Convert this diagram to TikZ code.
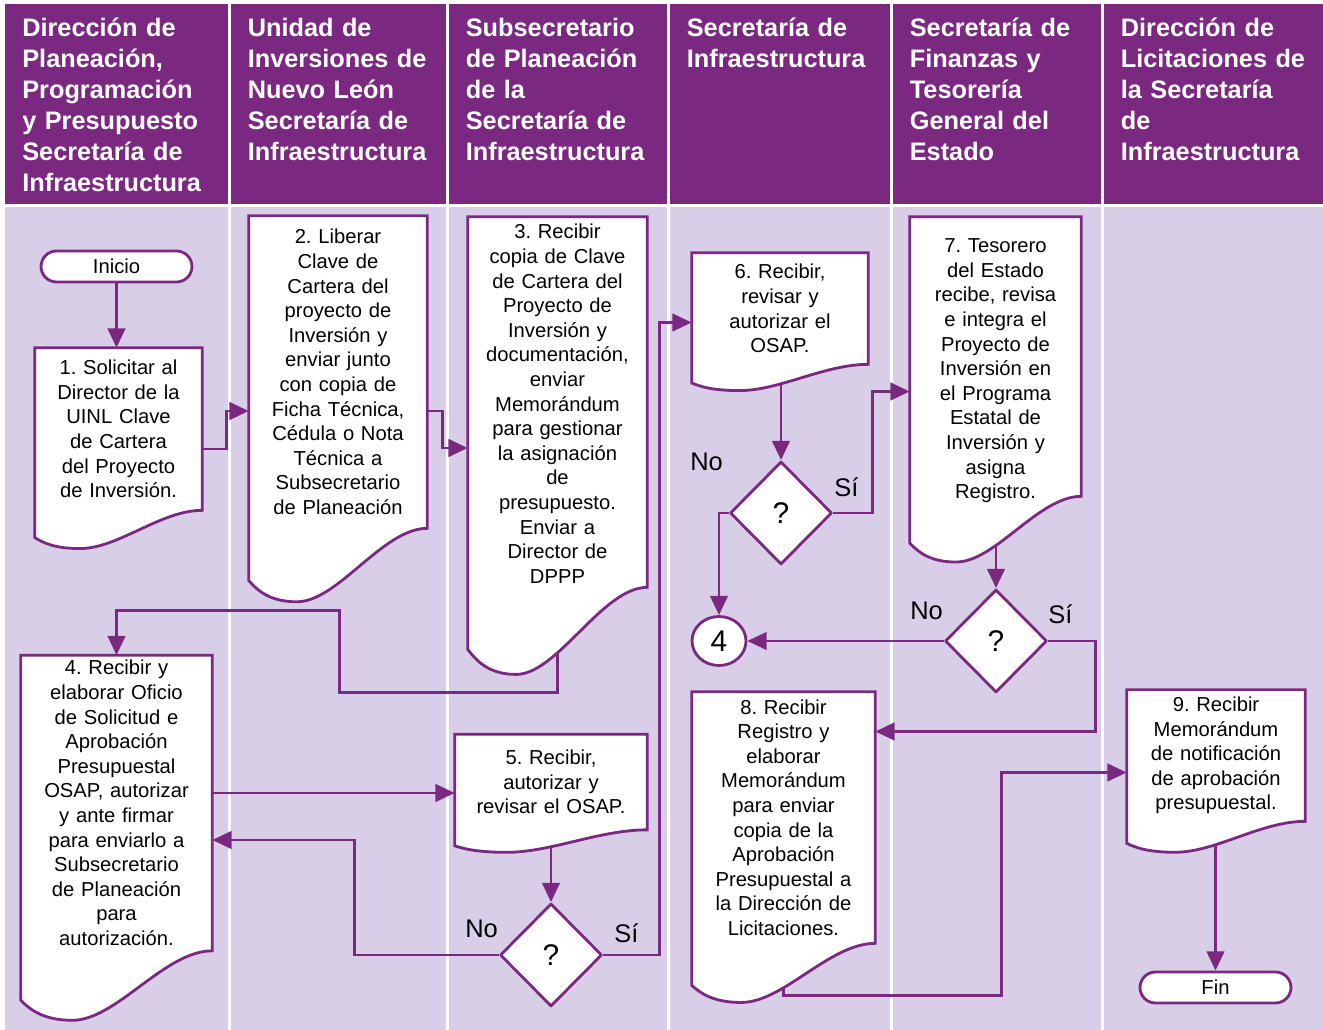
\documentclass[tikz,border=0pt]{standalone}
\usepackage{fontspec}
\setmainfont{Liberation Sans}
\frenchspacing
\usetikzlibrary{arrows.meta,calc,positioning,shapes.geometric,shapes.misc}
\definecolor{morado}{RGB}{123,41,128}
\definecolor{lila}{RGB}{217,206,232}
\pgfdeclarelayer{fondo}\pgfdeclarelayer{lineas}\pgfdeclarelayer{formas}
\pgfsetlayers{fondo,lineas,formas,main}
% contorno de documento (borde inferior ondulado) alrededor de un nodo
\newcommand\documento[1]{%
  \path[docline] let \p1=(#1.north west), \p2=(#1.south east), \n1={\x2-\x1}, \n2={0.235*(\y1-\y2)} in
    (\p1) -- (\x2,\y1) -- (\p2)
    .. controls (\x2-0.25*\n1,\y2) and (\x1+0.5*\n1,\y2-\n2) .. (\x1+0.27*\n1,\y2-\n2)
    .. controls (\x1+0.12*\n1,\y2-\n2) and (\x1+0.05*\n1,\y2-0.85*\n2) .. (\x1,\y2-0.71*\n2) -- cycle;}
\begin{document}
\begin{tikzpicture}[x=.02cm, y=-.02cm, line join=round,
	enc/.style={font=\fontsize{14.4}{17.6}\selectfont\bfseries, text=white, align=left, text width=4cm, inner sep=0pt},
	txt/.style={font=\fontsize{11.5}{14}\selectfont, align=center, inner sep=0pt},
	term/.style={txt, rounded rectangle, draw=morado, fill=white, line width=1.6pt, minimum width=3.02cm, minimum height=.62cm},
	decis/.style={diamond, draw=morado, fill=white, line width=1.6pt, inner sep=0pt, minimum width=2.04cm, minimum height=2.06cm, font=\fontsize{17}{20}\selectfont},
	etq/.style={font=\fontsize{14.5}{17}\selectfont, inner sep=0pt},
	flujo/.style={draw=morado, line width=1.6pt, -{Triangle[length=11pt,width=10pt]}},
	docline/.style={draw=morado, fill=white, line width=1.6pt}]
	\useasboundingbox (0,0) rectangle (1323,1030);
	\begin{pgfonlayer}{fondo}
		\fill[white] (0,0) rectangle (1323,1030);
		\foreach \xl/\xr/\hd [count=\i] in {5/227.5/{Dirección de\\Planeación,\\Programación\\y Presupuesto\\Secretaría de\\Infraestructura},
			230.5/445.5/{Unidad de\\Inversiones de\\Nuevo León\\Secretaría de\\Infraestructura},
			448.5/666.5/{Subsecretario\\de Planeación\\de la\\Secretaría de\\Infraestructura},
			669.5/889.5/{Secretaría de\\Infraestructura},
			892.5/1100.5/{Secretaría de\\Finanzas y\\Tesorería\\General del\\Estado},
			1103.5/1323/{Dirección de\\Licitaciones de\\la Secretaría\\de\\Infraestructura}}{
			\fill[morado] (\xl,4) rectangle (\xr,204.5);
			\fill[lila] (\xl,207.5) rectangle (\xr,1030);
			\node[enc, anchor=base west] (h\i) at (\xl+17,37) {\hd};
		}
	\end{pgfonlayer}
	\node[term] (ini) at (116.5,266.5) {Inicio};
	\node[txt, text width=3.34cm, minimum height=3.24cm] (p1) at (118.5,429) {1. Solicitar al\\Director de la\\UINL Clave\\de Cartera\\del Proyecto\\de Inversión.};
	\node[txt, text width=3.56cm, minimum height=6.24cm] (p2) at (338,372) {2. Liberar\\Clave de\\Cartera del\\proyecto de\\Inversión y\\enviar junto\\con copia de\\Ficha Técnica,\\Cédula o Nota\\Técnica a\\Subsecretario\\de Planeación};
	\node[txt, text width=3.58cm, minimum height=7.40cm, text depth=194pt] (p3) at (557.5,402) {3. Recibir\\copia de Clave\\de Cartera del\\Proyecto de\\Inversión y\\documentación,\\enviar\\Memorándum\\para gestionar\\la asignación\\de\\presupuesto.\\Enviar a\\Director de\\DPPP};
	\node[txt, text width=3.82cm, minimum height=5.90cm] (p4) at (116.5,803) {4. Recibir y\\elaborar Oficio\\de Solicitud e\\Aprobación\\Presupuestal\\OSAP, autorizar\\y ante firmar\\para enviarlo a\\Subsecretario\\de Planeación\\para\\autorización.};
	\node[txt, text width=3.84cm, minimum height=1.90cm] (p5) at (551,782) {5. Recibir,\\autorizar y\\revisar el OSAP.};
	\node[txt, text width=3.52cm, minimum height=2.22cm] (p6) at (780,308.5) {6. Recibir,\\revisar y\\autorizar el\\OSAP.};
	\node[txt, text width=3.42cm, minimum height=5.58cm, text depth=126pt] (p7) at (995.5,356.5) {7. Tesorero\\del Estado\\recibe, revisa\\e integra el\\Proyecto de\\Inversión en\\el Programa\\Estatal de\\Inversión y\\asigna\\Registro.};
	\node[txt, text width=3.66cm, minimum height=5.02cm] (p8) at (783.5,817.5) {8. Recibir\\Registro y\\elaborar\\Memorándum\\para enviar\\copia de la\\Aprobación\\Presupuestal a\\la Dirección de\\Licitaciones.};
	\node[txt, text width=3.56cm, minimum height=2.62cm] (p9) at (1216,755.5) {9. Recibir\\Memorándum\\de notificación\\de aprobación\\presupuestal.};
	\node[decis] (d5) at (551,955) {?};
	\node[decis] (d6) at (781,513) {?};
	\node[decis] (d7) at (996,641) {?};
	\node[ellipse, draw=morado, fill=white, line width=1.6pt, inner sep=0pt, minimum width=1.08cm, minimum height=.98cm, font=\fontsize{17}{20}\selectfont] (c4) at (719,641) {4};
	\node[term] (fin) at (1215.5,987.5) {Fin};
	\begin{pgfonlayer}{formas}
		\foreach \nd in {p1,p2,p3,p4,p5,p6,p7,p8,p9} \documento{\nd};
	\end{pgfonlayer}
	\node[etq] (no5) at ($(d5.west)+(-17,-26)$) {No};
	\node[etq] (si5) at ($(d5.east)+(23,-22)$) {Sí};
	\node[etq] (no6) at ($(d6.west)+(-22,-51)$) {No};
	\node[etq] (si6) at ($(d6.east)+(13,-26)$) {Sí};
	\node[etq] (no7) at ($(d7.west)+(-17,-30)$) {No};
	\node[etq] (si7) at ($(d7.east)+(12,-27)$) {Sí};
	\begin{pgfonlayer}{lineas}
		\draw[flujo] (ini.south) -- (ini.south |- p1.north);
		\draw[flujo] ($(p1.east)+(0,20)$) -- ++(24,0) |- ($(p2.west)+(0,39)$);
		\draw[flujo] ($(p2.east)+(0,39)$) -- ++(15,0) |- ($(p3.west)+(0,46)$);
		\draw[flujo] (p3.south) -- ++(0,105) -- ++(-218,0) -- ++(0,-82) -| (p4.north);
		\draw[flujo] ($(p4.east)+(0,-10)$) -- ($(p5.west)+(0,11)$);
		\draw[flujo] (d5.north |- p5.south) -- (d5.north);
		\draw[flujo] (d5.west) -- ++(-144,0) |- ($(p4.east)+(0,37)$);
		\draw[flujo] (d5.east) -- ++(56,0) |- ($(p6.west)+(0,14)$);
		\draw[flujo] (d6.north |- p6.south) -- (d6.north);
		\draw[flujo] (d6.west) -| (c4.north);
		\draw[flujo] (d6.east) -- ++(39,0) |- ($(p7.west)+(0,35)$);
		\draw[flujo] (d7.north |- p7.south) -- (d7.north);
		\draw[flujo] (d7.west) -- (c4.east);
		\draw[flujo] (d7.east) -- ++(47,0) |- ($(p8.east)+(0,-86)$);
		\draw[flujo] (p8.south) -- ++(0,52) -- ++(218,0) |- ($(p9.west)+(0,17)$);
		\draw[flujo] (fin.north |- p9.south) -- (fin.north);
	\end{pgfonlayer}
\end{tikzpicture}
\end{document}
